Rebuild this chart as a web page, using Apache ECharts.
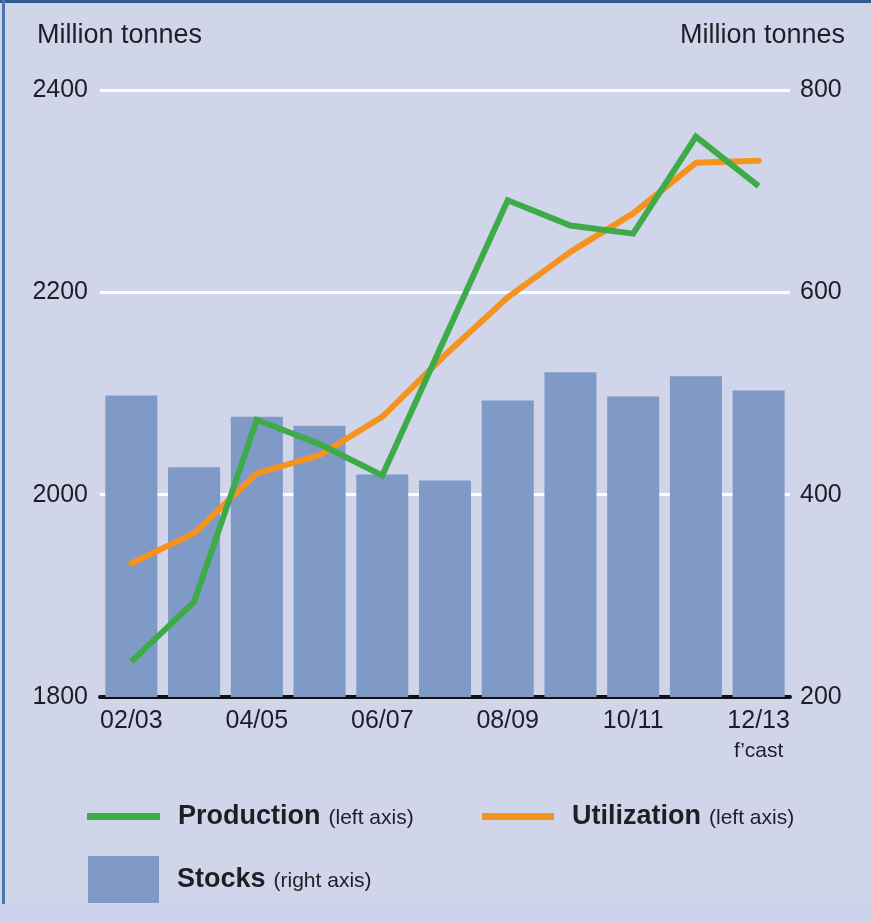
<!DOCTYPE html>
<html>
<head>
<meta charset="utf-8">
<script src="https://cdn.jsdelivr.net/npm/echarts@6/dist/echarts.min.js"></script>
<style>
  html, body { margin: 0; padding: 0; background: #d1d5ea; }
  #chart { width: 871px; height: 922px; }
</style>
</head>
<body>
<div id="chart"></div>
<script>
// Crop years (the last one is a forecast)
const categories = ['02/03', '03/04', '04/05', '05/06', '06/07', '07/08', '08/09', '09/10', '10/11', '11/12', '12/13'];
// Million tonnes, left axis
const production = [1835, 1894, 2074, 2050, 2019, 2155, 2291, 2266, 2258, 2354, 2305];
const utilization = [1932, 1962, 2021, 2039, 2077, 2138, 2195, 2240, 2278, 2328, 2330];
// Million tonnes, right axis
const stocks = [498, 427, 477, 468, 420, 414, 493, 521, 497, 517, 503];

const FONT = "'Liberation Sans', Arial, sans-serif";
const TEXT = '#1e1e24';
const GREEN = '#3dab47';
const ORANGE = '#f6921e';
const BLUE = '#7f9ac7';

const legendSuffix = {
  'Production': '(left axis)',
  'Utilization': '(left axis)',
  'Stocks': '(right axis)'
};
const legendText = {
  fontFamily: FONT,
  padding: [0, 0, 0, 13],
  rich: {
    b: { fontFamily: FONT, fontSize: 27, fontWeight: 'bold', color: TEXT },
    s: { fontFamily: FONT, fontSize: 21, color: TEXT, padding: [4, 0, 0, 8] }
  }
};
const legendFmt = name => '{b|' + name + '}{s|' + legendSuffix[name] + '}';

const chart = echarts.init(document.getElementById('chart'), null, { renderer: 'canvas' });
chart.setOption({
  backgroundColor: '#d1d5ea',
  animation: false,
  textStyle: { fontFamily: FONT },
  title: [
    { text: 'Million tonnes', left: 37, top: 22, padding: 0,
      textStyle: { fontFamily: FONT, fontSize: 27, fontWeight: 'normal', color: TEXT } },
    { text: 'Million tonnes', right: 26, top: 22, padding: 0,
      textStyle: { fontFamily: FONT, fontSize: 27, fontWeight: 'normal', color: TEXT } }
  ],
  graphic: [
    { type: 'rect', shape: { x: 0, y: 0, width: 871, height: 3 }, style: { fill: '#2f5b90' }, silent: true },
    { type: 'rect', shape: { x: 2, y: 0, width: 3, height: 922 }, style: { fill: '#4a76ae' }, silent: true },
    { type: 'rect', shape: { x: 0, y: 904, width: 871, height: 18 }, style: { fill: '#cbd2ec' }, silent: true }
  ],
  legend: [
    { data: [{ name: 'Production', icon: 'rect' }], left: 87, top: 803, padding: 0,
      itemWidth: 73, itemHeight: 7, formatter: legendFmt, textStyle: legendText, selectedMode: false },
    { data: [{ name: 'Utilization', icon: 'rect' }], left: 482, top: 803, padding: 0,
      itemWidth: 72, itemHeight: 7, formatter: legendFmt, textStyle: legendText, selectedMode: false },
    { data: [{ name: 'Stocks', icon: 'rect' }], left: 88, top: 856, padding: 0,
      itemWidth: 71, itemHeight: 47, formatter: legendFmt, textStyle: legendText, selectedMode: false }
  ],
  grid: { left: 100, right: 81, top: 90, bottom: 225, containLabel: false },
  xAxis: {
    type: 'category',
    data: categories,
    boundaryGap: true,
    axisLine: { show: true, lineStyle: { color: '#111', width: 4 } },
    axisTick: { show: false },
    axisLabel: {
      interval: 1,
      margin: 10,
      color: TEXT,
      fontFamily: FONT,
      fontSize: 25,
      lineHeight: 28,
      formatter: (v, i) => i === categories.length - 1 ? v + '\n{s|f\u2019cast}' : v,
      rich: { s: { fontFamily: FONT, fontSize: 21, lineHeight: 32, color: TEXT } }
    },
    splitLine: { show: false }
  },
  yAxis: [
    {
      type: 'value', min: 1800, max: 2400, interval: 200, position: 'left',
      axisLine: { show: false }, axisTick: { show: false },
      axisLabel: { margin: 12, color: TEXT, fontFamily: FONT, fontSize: 25, formatter: v => String(v) },
      splitLine: { show: true, lineStyle: { color: '#ffffff', width: 3 } }
    },
    {
      type: 'value', min: 200, max: 800, interval: 200, position: 'right',
      axisLine: { show: false }, axisTick: { show: false },
      axisLabel: { margin: 10, color: TEXT, fontFamily: FONT, fontSize: 25, formatter: v => String(v) },
      splitLine: { show: false }
    }
  ],
  series: [
    {
      name: 'Stocks', type: 'bar', yAxisIndex: 1, data: stocks,
      barCategoryGap: '17%',
      itemStyle: { color: BLUE },
      z: 2
    },
    {
      name: 'Utilization', type: 'line', yAxisIndex: 0, data: utilization,
      symbol: 'none', itemStyle: { color: ORANGE },
      lineStyle: { color: ORANGE, width: 6, join: 'round', cap: 'round' },
      z: 3
    },
    {
      name: 'Production', type: 'line', yAxisIndex: 0, data: production,
      symbol: 'none', itemStyle: { color: GREEN },
      lineStyle: { color: GREEN, width: 6, join: 'miter', cap: 'butt' },
      z: 4
    }
  ]
});
</script>
</body>
</html>
